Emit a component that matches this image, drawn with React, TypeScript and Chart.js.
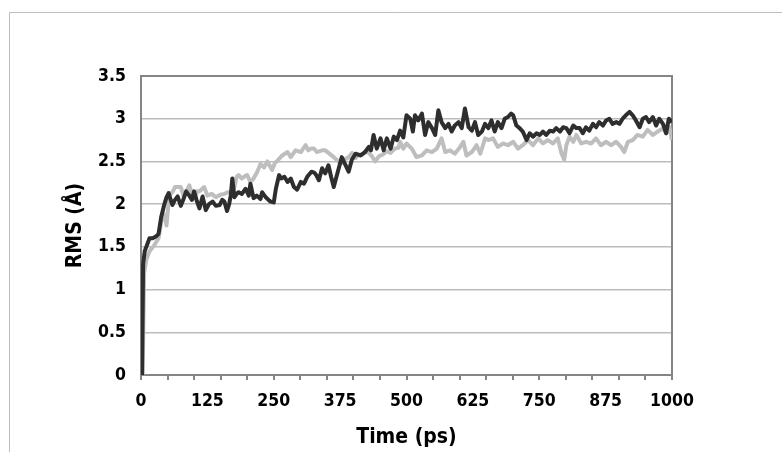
import React, { useEffect, useRef } from "react";
import { Chart, registerables } from "chart.js";

Chart.register(...registerables);

const darkTime = [2,4,7,10,16,22,28,33,38,44,48,52,59,64,69,75,80,85,91,96,100,105,110,116,122,128,135,141,148,153,157,162,166,169,172,176,180,184,190,197,203,206,212,218,225,228,235,240,244,250,254,260,264,270,276,282,288,294,301,307,313,321,326,330,335,341,347,353,358,363,369,378,385,391,397,404,413,422,429,433,438,444,451,457,463,470,476,482,488,494,500,507,512,516,522,529,535,541,548,554,560,566,573,579,585,591,598,604,610,617,623,629,635,642,648,654,660,666,672,679,685,691,697,701,707,713,719,726,732,738,745,751,757,763,770,776,782,789,795,801,807,814,820,826,832,838,844,851,857,863,870,876,882,888,895,901,907,913,920,926,932,939,945,951,957,964,970,976,983,989,994,1000];
const darkRms = [0,1.3,1.45,1.5,1.6,1.6,1.62,1.65,1.85,2.0,2.08,2.13,1.99,2.05,2.09,1.98,2.06,2.15,2.1,2.05,2.15,2.04,1.95,2.09,1.93,2.0,2.03,1.98,1.99,2.05,2.03,1.92,2.0,2.1,2.3,2.08,2.12,2.14,2.12,2.18,2.1,2.24,2.07,2.1,2.06,2.14,2.08,2.05,2.03,2.02,2.18,2.34,2.3,2.32,2.26,2.3,2.2,2.17,2.26,2.24,2.32,2.38,2.37,2.34,2.28,2.42,2.36,2.455,2.32,2.2,2.34,2.55,2.46,2.38,2.52,2.59,2.57,2.61,2.67,2.63,2.81,2.65,2.77,2.63,2.77,2.65,2.79,2.75,2.86,2.78,3.04,3.0,2.85,3.04,2.98,3.06,2.81,2.96,2.89,2.81,3.1,2.96,2.89,2.94,2.85,2.92,2.96,2.89,3.12,2.9,2.86,2.96,2.81,2.85,2.94,2.89,2.98,2.85,2.96,2.89,3.0,3.02,3.06,3.04,2.92,2.89,2.85,2.75,2.83,2.79,2.83,2.81,2.85,2.81,2.86,2.85,2.89,2.85,2.9,2.89,2.83,2.92,2.89,2.89,2.83,2.9,2.86,2.94,2.9,2.96,2.92,2.98,3.0,2.94,2.96,2.94,3.0,3.04,3.08,3.04,2.98,2.9,3.0,3.02,2.96,3.02,2.92,3.0,2.94,2.83,3.0,2.96];

const grayTime = [3,6,10,16,25,33,41,45,48,53,60,64,68,75,80,86,91,96,100,106,110,119,125,133,141,149,157,163,169,176,180,184,190,196,200,206,212,219,225,232,238,247,252,257,266,276,282,291,301,310,315,320,326,331,341,347,353,363,372,378,385,391,398,404,410,416,423,429,435,441,448,455,463,470,478,485,488,494,500,510,519,529,538,548,557,566,573,582,591,601,607,613,623,632,639,648,654,663,672,682,691,701,710,719,729,738,748,757,766,776,785,792,797,801,807,814,820,829,838,848,857,866,876,885,895,904,910,917,926,935,945,954,964,973,983,989,995,1000];
const grayRms = [0,1.2,1.35,1.45,1.52,1.6,1.9,1.85,1.75,2.1,2.15,2.2,2.2,2.2,2.1,2.15,2.22,2.12,2.07,2.15,2.15,2.2,2.1,2.12,2.08,2.11,2.12,2.14,2.14,2.2,2.32,2.34,2.3,2.33,2.34,2.26,2.3,2.38,2.47,2.43,2.5,2.4,2.48,2.51,2.57,2.61,2.55,2.63,2.61,2.69,2.63,2.65,2.65,2.61,2.63,2.63,2.6,2.55,2.5,2.48,2.53,2.55,2.6,2.54,2.58,2.57,2.62,2.6,2.56,2.5,2.56,2.58,2.62,2.6,2.65,2.66,2.73,2.65,2.71,2.65,2.55,2.57,2.63,2.61,2.65,2.77,2.61,2.63,2.59,2.67,2.73,2.57,2.61,2.69,2.59,2.77,2.75,2.77,2.67,2.71,2.69,2.73,2.65,2.69,2.75,2.69,2.77,2.71,2.75,2.71,2.77,2.59,2.52,2.69,2.79,2.73,2.81,2.71,2.73,2.71,2.77,2.69,2.73,2.69,2.73,2.67,2.61,2.73,2.75,2.81,2.79,2.87,2.81,2.85,2.885,2.83,2.9,2.75];

const xLabelTicks = [0, 125, 250, 375, 500, 625, 750, 875, 1000];
const yTicks = [0, 0.5, 1, 1.5, 2, 2.5, 3, 3.5];

const FONT = '"DejaVu Sans Condensed", "DejaVu Sans", sans-serif';

const framePlugin = {
  id: "frame",
  beforeDraw(chart: any) {
    const ctx = chart.ctx;
    ctx.save();
    ctx.strokeStyle = "#bdbdbd";
    ctx.lineWidth = 1;
    ctx.beginPath();
    ctx.moveTo(9.5, 452);
    ctx.lineTo(9.5, 12.5);
    ctx.lineTo(782, 12.5);
    ctx.stroke();
    ctx.restore();
  },
  beforeDatasetsDraw(chart: any) {
    const { ctx, chartArea } = chart;
    ctx.save();
    ctx.strokeStyle = "#858585";
    ctx.lineWidth = 2;
    ctx.strokeRect(chartArea.left, chartArea.top, chartArea.right - chartArea.left, chartArea.bottom - chartArea.top);
    ctx.restore();
  },
};

export default function App() {
  const ref = useRef<HTMLCanvasElement>(null);
  useEffect(() => {
    if (!ref.current) return;
    const dark = darkTime.map((t, i) => ({ x: t, y: darkRms[i] }));
    const gray = grayTime.map((t, i) => ({ x: t, y: grayRms[i] }));
    const chart = new Chart(ref.current, {
      type: "line",
      data: {
        datasets: [
          { label: "A", data: dark, borderColor: "#2e2e2e", borderWidth: 4, pointRadius: 0, tension: 0, borderJoinStyle: "round" },
          { label: "B", data: gray, borderColor: "#bebebe", borderWidth: 4, pointRadius: 0, tension: 0, borderJoinStyle: "round" },
        ],
      },
      options: {
        animation: false,
        responsive: false,
        maintainAspectRatio: false,
        parsing: false as any,
        layout: { padding: { left: 0, right: 110, top: 76, bottom: 0 } },
        plugins: { legend: { display: false }, tooltip: { enabled: false } },
        scales: {
          x: {
            type: "linear",
            min: 0,
            max: 1000,
            afterFit: (s: any) => { s.height = 77; },
            afterBuildTicks: (s: any) => {
              const arr = [];
              for (let v = 0; v <= 1000; v += 25) arr.push({ value: v });
              s.ticks = arr;
            },
            ticks: {
              autoSkip: false,
              maxRotation: 0,
              padding: 11,
              color: "#000",
              font: { family: FONT, weight: "bold", size: 17.5 },
              callback: (v: any) => (xLabelTicks.includes(Number(v)) ? String(v) : ""),
            },
            grid: {
              drawOnChartArea: false,
              drawTicks: true,
              tickLength: 5,
              lineWidth: 2,
              tickColor: (c: any) => (c.tick && c.tick.value % 50 === 0 ? "#858585" : "rgba(0,0,0,0)"),
            },
            border: { display: false },
            title: {
              display: true,
              text: "Time (ps)",
              color: "#000",
              font: { family: FONT, weight: "bold", size: 21 },
              padding: { top: 0, bottom: 2 },
            },
          },
          y: {
            type: "linear",
            min: 0,
            max: 3.5,
            afterFit: (s: any) => { s.width = 141; },
            afterBuildTicks: (s: any) => { s.ticks = yTicks.map((v) => ({ value: v })); },
            ticks: {
              padding: 15,
              color: "#000",
              font: { family: FONT, weight: "bold", size: 17.5 },
              callback: (v: any) => String(v),
            },
            grid: {
              drawTicks: false,
              lineWidth: 1.5,
              color: (c: any) => (c.tick && (c.tick.value === 0 || c.tick.value === 3.5) ? "rgba(0,0,0,0)" : "#bcbcbc"),
            },
            border: { display: false },
            title: {
              display: true,
              text: "RMS (Å)",
              color: "#000",
              font: { family: FONT, weight: "bold", size: 21 },
              padding: { top: 63, bottom: 0 },
            },
          },
        },
      },
      plugins: [framePlugin],
    });
    return () => chart.destroy();
  }, []);
  return (
    <div style={{ position: "fixed", left: 0, top: 0, width: 782, height: 452, background: "#fff" }}>
      <canvas ref={ref} width={782} height={452} style={{ width: 782, height: 452, display: "block" }} />
    </div>
  );
}
